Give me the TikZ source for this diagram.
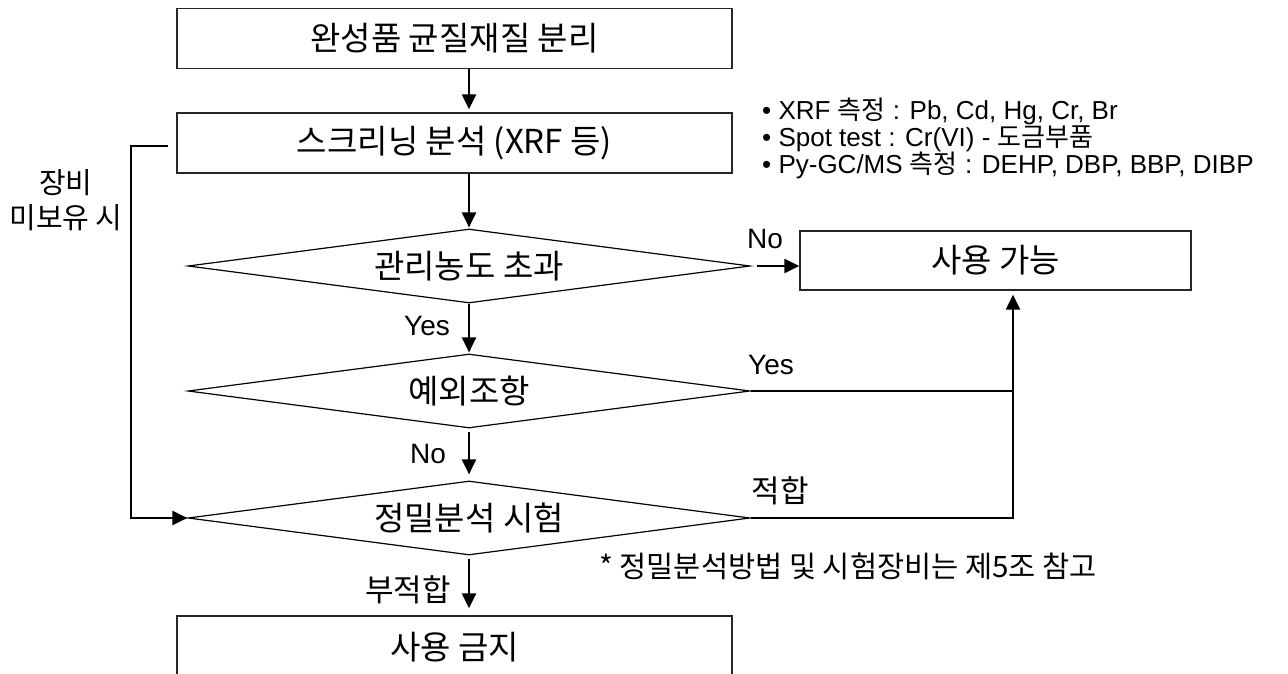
\documentclass[tikz,border=0pt]{standalone}
\usepackage{fontspec}
\setmainfont{Liberation Sans}
\newfontfamily\kr{Noto Sans CJK KR}
\usetikzlibrary{arrows.meta,shapes.geometric}
\begin{document}
\begin{tikzpicture}[x=1pt,y=-1pt,
  box/.style={draw=black!85, line width=1.3pt, minimum width=555pt, minimum height=60pt, inner sep=0pt, font=\kr\fontsize{33}{38}\selectfont},
  dia/.style={draw, diamond, line width=1.2pt, aspect=7.6, minimum width=562pt, minimum height=74pt, inner sep=0pt, font=\kr\fontsize{33}{38}\selectfont},
  conn/.style={line width=2.2pt},
  thinconn/.style={line width=1.8pt},
  arr/.style={conn, -{Triangle[length=15pt,width=14pt]}},
  lab/.style={font=\fontsize{28}{32}\selectfont, inner sep=0pt},
  klab/.style={font=\kr\fontsize{31}{35}\selectfont, inner sep=0pt},
  bul/.style={font=\fontsize{26}{27}\selectfont, inner sep=0pt, anchor=west, align=left}]
\useasboundingbox (0,0) rectangle (1288,674);
\node[box] (b1) at (454.5,38.5) {완성품 균질재질 분리};
\node[box] (b2) at (454.5,143) {스크리닝 분석 (XRF 등)};
\node[dia] (d1) at (469,266) {관리농도 초과};
\node[dia] (d2) at (469,391) {예외조항};
\node[dia] (d3) at (469,518) {정밀분석 시험};
\node[box, minimum width=391pt, minimum height=59pt] (ok) at (995.5,260.5) {사용 가능};
\node[box, minimum height=62pt] (ng) at (454.5,647) {사용 금지};
\coordinate (lx) at (131,0);
\coordinate (j) at (1013,0);
% vertical flow
\draw[arr, shorten >=3pt] (b1.south -| d1.center) -- (b2.north -| d1.center);
\draw[arr, shorten >=1pt] (b2.south -| d1.center) -- (d1.north);
\draw[arr, shorten >=1pt] (d1.south) -- (d2.north);
\draw[arr, shorten <=3pt, shorten >=6pt] (d2.south) -- (d3.north);
\draw[arr, shorten <=3pt, shorten >=7pt] (d3.south) -- (ng.north -| d3.center);
% right branches
\draw[arr, shorten <=6pt] (d1.east) -- (d1.east -| ok.west);
\draw[arr, shorten >=4pt] (d2.east) -- (d2.east -| j) -- (j |- ok.south);
\draw[thinconn] (d3.east) -- (d3.east -| j) -- (d2.east -| j);
% left loop
\draw[arr, shorten <=8pt] ([yshift=-3pt]b2.west) -- ([yshift=-3pt]b2.west -| lx) -- (d3.west -| lx) -- (d3.west);
% labels
\node[klab, font=\kr\fontsize{29}{35}\selectfont, align=center] (equip) at (66,200) {장비\\미보유 시};
\node[lab] (lno1) at (765,239) {No};
\node[lab] (lyes1) at (427,326) {Yes};
\node[lab] (lyes2) at (771,365) {Yes};
\node[lab] (lno2) at (428,454) {No};
\node[klab] (lfit) at (780,491) {적합};
\node[klab] (lunfit) at (408,590) {부적합};
\node[klab, font=\kr\fontsize{29.5}{34}\selectfont] (note) at (848,566) {* 정밀분석방법 및 시험장비는 제5조 참고};
\node[bul] (bullets) at (762,138) {• XRF {\kr 측정} : Pb, Cd, Hg, Cr, Br\\• Spot test : Cr(VI) - {\kr 도금부품}\\• Py-GC/MS {\kr 측정} : DEHP, DBP, BBP, DIBP};
\end{tikzpicture}
\end{document}
